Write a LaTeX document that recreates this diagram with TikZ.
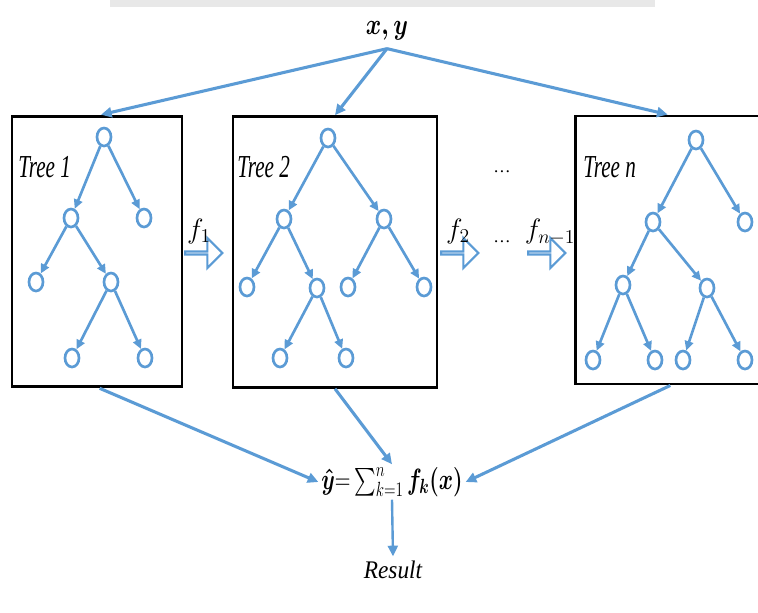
\documentclass[tikz,border=0pt]{standalone}
\usepackage{fix-cm}
\usepackage{exscale}
\usepackage{amsmath}
\usepackage{fontspec}
\setmainfont{Liberation Serif}
\usetikzlibrary{shapes.geometric,shapes.arrows,arrows.meta}
\definecolor{tblue}{HTML}{5B9BD5}
\newcommand\squeezetxt[2]{\scalebox{#1}[1]{#2}}
\begin{document}
\begin{tikzpicture}[x=0.75pt,y=-0.75pt,
 leaf/.style={ellipse,draw=tblue,line width=2pt,minimum width=10.5pt,minimum height=13.5pt,inner sep=0pt},
 tedge/.style={draw=tblue,line width=2pt,-{Triangle[length=7pt,width=6.5pt]}},
 flow/.style={draw=tblue,line width=2.3pt,-{Triangle[length=8pt,width=7.5pt]}},
 box/.style={draw=black,line width=2.2pt,inner sep=0pt},
 blk/.style={single arrow,draw=tblue,fill=white,line width=1.6pt,minimum width=22.5pt,single arrow head extend=7.25pt,minimum height=28pt,inner sep=0pt},
 lab/.style={font=\fontsize{24}{28}\selectfont\itshape,inner sep=0pt},
 mth/.style={font=\fontsize{21}{25}\selectfont,inner sep=1pt}]
\useasboundingbox (0,0) rectangle (758,612);
\clip (0,0) rectangle (758,612);
\fill[gray!18] (110,0) rectangle (655,7);
% input
\node[font=\fontsize{22}{26}\selectfont,inner sep=1pt] (xy) at (387,31) {\squeezetxt{0.8}{$\boldsymbol{x,y}$}};
\coordinate (xysrc) at ([yshift=-5pt]xy.south);
% boxes
\node[box,minimum width=127.5pt,minimum height=203pt] (b1) at (97,251.5) {};
\node[box,minimum width=153pt,minimum height=203pt] (b2) at (335,252) {};
\node[box,minimum width=158pt,minimum height=201pt] (bn) at (681,250) {};
\node[lab,anchor=west] (l1) at (18,167) {\squeezetxt{0.66}{Tree 1}};
\node[lab,anchor=west] (l2) at (237,167) {\squeezetxt{0.66}{Tree 2}};
\node[lab,anchor=west] (ln) at (583,167) {\squeezetxt{0.66}{Tree n}};
\draw[flow] (xysrc) -- ([xshift=3pt]b1.north);
\draw[flow] (xysrc) -- (b2.north);
\draw[flow] (xysrc) -- ([xshift=-10pt]bn.north);
% tree 1
\node[leaf] (a0) at (104,137) {};
\node[leaf] (a1) at (71,218) {};
\node[leaf] (a2) at (144,218) {};
\node[leaf] (a3) at (36,282) {};
\node[leaf] (a4) at (111,282) {};
\node[leaf] (a5) at (72,358) {};
\node[leaf] (a6) at (145,358) {};
\draw[tedge] (a0) -- (a1);
\draw[tedge] (a0) -- (a2);
\draw[tedge] (a1) -- (a3);
\draw[tedge] (a1) -- (a4);
\draw[tedge] (a4) -- (a5);
\draw[tedge] (a4) -- (a6);
% tree 2
\node[leaf] (c0) at (328,138) {};
\node[leaf] (c1) at (284,219) {};
\node[leaf] (c2) at (384,219) {};
\node[leaf] (c3) at (247,287) {};
\node[leaf] (c4) at (317,288) {};
\node[leaf] (c5) at (348,287) {};
\node[leaf] (c6) at (424,287) {};
\node[leaf] (c7) at (280,358) {};
\node[leaf] (c8) at (346,358) {};
\draw[tedge] (c0) -- (c1);
\draw[tedge] (c0) -- (c2);
\draw[tedge] (c1) -- (c3);
\draw[tedge] (c1) -- (c4);
\draw[tedge] (c2) -- (c5);
\draw[tedge] (c2) -- (c6);
\draw[tedge] (c4) -- (c7);
\draw[tedge] (c4) -- (c8);
% tree n
\node[leaf] (d0) at (696,140) {};
\node[leaf] (d1) at (653,222) {};
\node[leaf] (d2) at (745,222) {};
\node[leaf] (d3) at (623,285) {};
\node[leaf] (d4) at (707,288) {};
\node[leaf] (d5) at (593,360) {};
\node[leaf] (d6) at (655,360) {};
\node[leaf] (d7) at (683,360) {};
\node[leaf] (d8) at (745,360) {};
\draw[tedge] (d0) -- (d1);
\draw[tedge] (d0) -- (d2);
\draw[tedge] (d1) -- (d3);
\draw[tedge] (d1) -- (d4);
\draw[tedge] (d3) -- (d5);
\draw[tedge] (d3) -- (d6);
\draw[tedge] (d4) -- (d7);
\draw[tedge] (d4) -- (d8);
% block arrows and labels
\node[blk] (s1) at (203,253) {};
\node[blk] (s2) at (459,253) {};
\node[blk] (s3) at (546,253) {};
\node[mth] (f1) at (199,231) {$f_1$};
\node[mth] (f2) at (458,231) {$f_2$};
\node[mth] (f3) at (550,232) {$f_{n-1}$};
\node[font=\fontsize{13}{15}\selectfont] (dt1) at (502,172) {\ldots};
\node[font=\fontsize{13}{15}\selectfont] (dt2) at (502,242) {\ldots};
% sum
\node[font=\fontsize{22}{26}\selectfont,inner sep=2pt] (sum) at (392,482) {\squeezetxt{0.74}{$\boldsymbol{\hat{y}}{=}\sum_{k=1}^{n} \boldsymbol{f_k(x)}$}};
\draw[flow] ([xshift=2pt]b1.south) -- (sum.west);
\draw[flow] (b2.south) -- (sum.north);
\draw[flow] ([xshift=-8pt]bn.south) -- (sum.east);
\node[font=\fontsize{19}{23}\selectfont\itshape] (res) at (393,570) {\squeezetxt{0.92}{Result}};
\draw[flow,line width=1.8pt] (sum.south) -- (res.north);
\end{tikzpicture}
\end{document}
